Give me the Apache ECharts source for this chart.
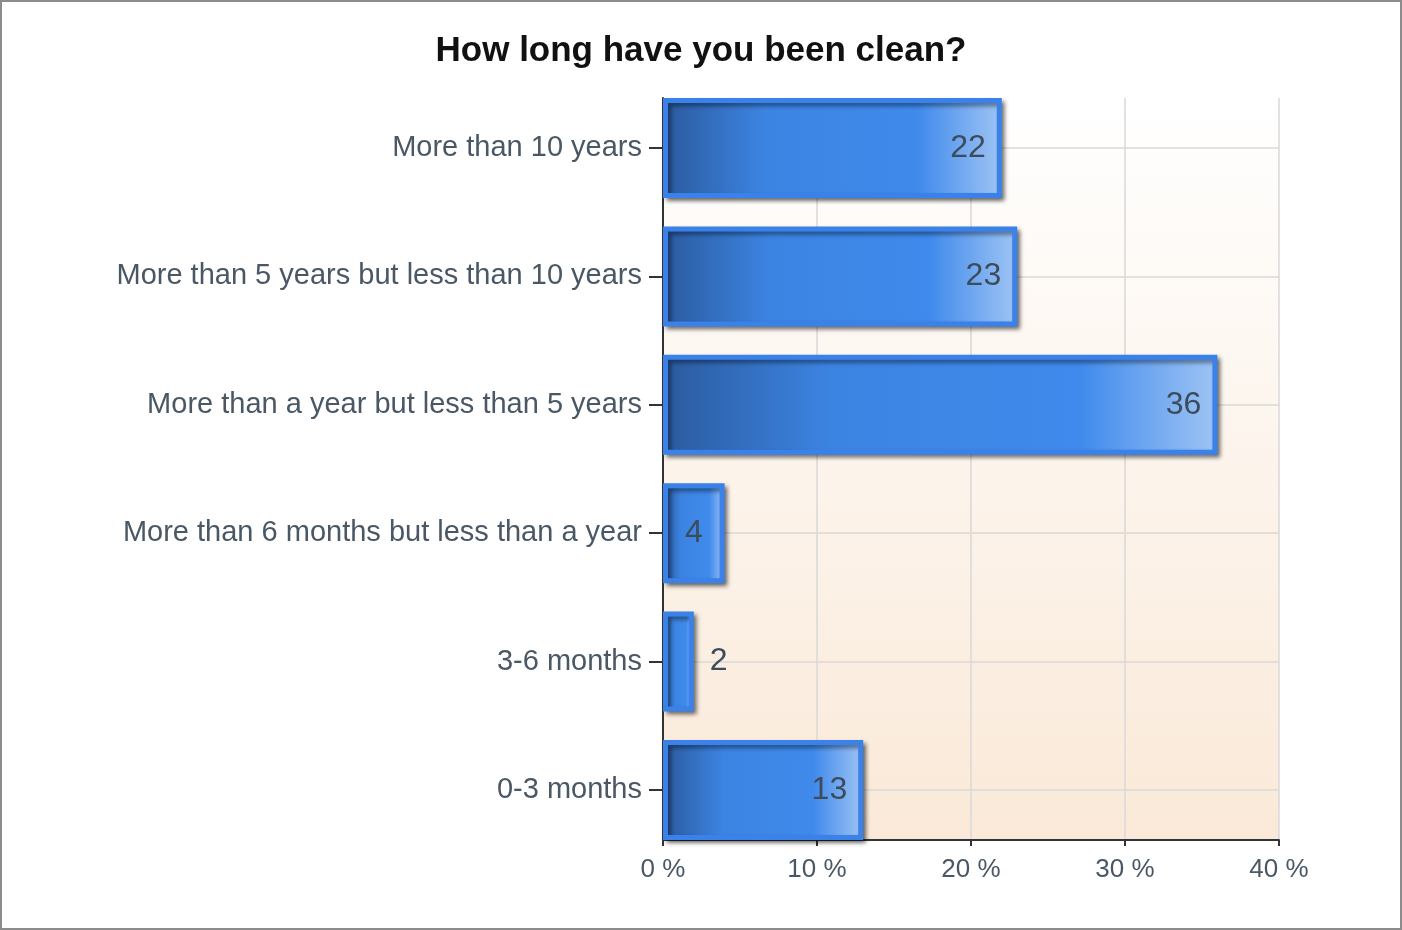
<!DOCTYPE html>
<html>
<head>
<meta charset="utf-8">
<script src="https://cdn.jsdelivr.net/npm/echarts@6/dist/echarts.min.js"></script>
<style>
html,body{margin:0;padding:0;background:#fff;}
#chart{width:1402px;height:930px;}
#frame{position:absolute;left:0;top:0;width:1402px;height:930px;box-sizing:border-box;border:2px solid #8c8c8c;pointer-events:none;}
</style>
</head>
<body>
<div id="chart"></div>
<div id="frame"></div>
<script>
const categories = [
  'More than 10 years',
  'More than 5 years but less than 10 years',
  'More than a year but less than 5 years',
  'More than 6 months but less than a year',
  '3-6 months',
  '0-3 months'
];
const percentValues = [22, 23, 36, 4, 2, 13];
const xTickMax = 40;
const xTickStep = 10;

const chart = echarts.init(document.getElementById('chart'));
const font = 'Liberation Sans, Arial, sans-serif';
const labelColor = '#4a5866';

const barData = percentValues.map(v => {
  let pos = 'insideRight';
  if (v < 3) pos = 'right';
  else if (v < 6) pos = 'inside';
  return { value: v, label: { position: pos } };
});

chart.setOption({
  animation: false,
  title: {
    text: 'How long have you been clean?',
    left: 'center',
    top: 29,
    textStyle: { fontFamily: font, fontSize: 35, fontWeight: 'bold', color: '#111' }
  },
  grid: [
    {
      left: 663, right: 123, top: 98, bottom: 90,
      show: true, borderWidth: 0,
      backgroundColor: new echarts.graphic.LinearGradient(0, 0, 0, 1, [
        { offset: 0, color: '#ffffff' },
        { offset: 1, color: '#fae9d8' }
      ])
    },
    { left: 663, right: 123, top: 148, bottom: 140 }
  ],
  xAxis: [
    {
      gridIndex: 0, type: 'value', min: 0, max: xTickMax, interval: xTickStep,
      axisLine: { show: true, lineStyle: { color: '#333', width: 2 } },
      axisTick: { show: true, length: 6, lineStyle: { color: '#333', width: 2 } },
      axisLabel: { formatter: '{value} %', fontFamily: font, fontSize: 26, color: labelColor, margin: 17 },
      splitLine: { show: true, lineStyle: { color: '#d9d9d9', width: 1.5 } }
    },
    {
      gridIndex: 1, type: 'value', min: 0, max: xTickMax, interval: xTickStep, show: false
    }
  ],
  yAxis: [
    {
      gridIndex: 0, type: 'value', min: 0, max: 1,
      axisLine: { show: true, lineStyle: { color: '#333', width: 2 } },
      axisTick: { show: false }, axisLabel: { show: false }, splitLine: { show: false }
    },
    {
      gridIndex: 1, type: 'category', data: categories, inverse: true, boundaryGap: false,
      axisLine: { show: false },
      axisTick: { show: true, length: 14, lineStyle: { color: '#333', width: 2 } },
      axisLabel: { fontFamily: font, fontSize: 29, color: labelColor, margin: 21 },
      splitLine: { show: true, lineStyle: { color: '#d9d9d9', width: 1.5 } }
    }
  ],
  series: [{
    type: 'bar',
    xAxisIndex: 1, yAxisIndex: 1,
    barWidth: 100,
    data: barData,
    itemStyle: {
      color: new echarts.graphic.LinearGradient(0, 0, 1, 0, [
        { offset: 0, color: '#2b5a9e' },
        { offset: 0.3, color: '#3c84e2' },
        { offset: 0.75, color: '#3f8aec' },
        { offset: 1, color: '#9fc4f4' }
      ]),
      borderColor: '#3a82ea',
      borderWidth: 5,
      shadowColor: 'rgba(0,0,0,0.45)',
      shadowBlur: 4,
      shadowOffsetX: 3,
      shadowOffsetY: 3
    },
    label: {
      show: true,
      fontFamily: font, fontSize: 32, color: '#3c4c5c',
      distance: 16
    }
  }]
});
</script>
</body>
</html>
